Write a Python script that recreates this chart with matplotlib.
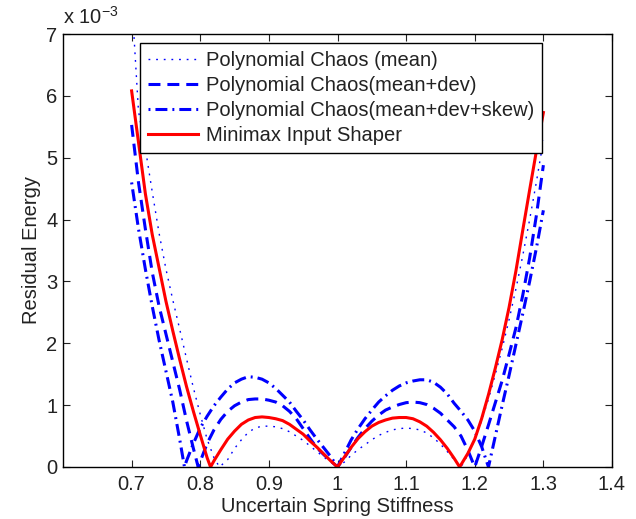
import matplotlib
matplotlib.use("Agg")
import matplotlib.pyplot as plt

plt.rcParams['font.family'] = ['Liberation Sans', 'DejaVu Sans']
plt.rcParams['mathtext.fontset'] = 'custom'
plt.rcParams['mathtext.rm'] = 'Liberation Sans'
plt.rcParams['lines.scale_dashes'] = False

# Residual energy (x 1e-3) against spring stiffness, one series per shaper
mean_x = [0.70, 0.71, 0.72, 0.73, 0.74, 0.75, 0.76, 0.77, 0.78, 0.79, 0.80, 0.81, 0.82, 0.828,
          0.84, 0.85, 0.86, 0.87, 0.88, 0.89, 0.90, 0.91, 0.92, 0.93, 0.94, 0.95, 0.96, 0.97, 0.98, 0.99, 1.00,
          1.01, 1.02, 1.03, 1.04, 1.05, 1.06, 1.07, 1.08, 1.09, 1.10, 1.11, 1.12, 1.13, 1.14, 1.15, 1.16, 1.17, 1.18,
          1.19, 1.20, 1.21, 1.22, 1.23, 1.24, 1.25, 1.26, 1.27, 1.28, 1.29, 1.30]
mean_y = [7.6, 5.75, 5.15, 4.45, 3.78, 3.2, 2.7, 2.23, 1.75, 1.28, 0.85, 0.45, 0.15, 0.0,
          0.12, 0.30, 0.44, 0.56, 0.63, 0.66, 0.66, 0.65, 0.62, 0.57, 0.50, 0.43, 0.34, 0.25, 0.16, 0.08, 0.0,
          0.08, 0.19, 0.28, 0.36, 0.44, 0.51, 0.56, 0.60, 0.62, 0.63, 0.62, 0.60, 0.55, 0.47, 0.37, 0.25, 0.12, 0.0,
          0.2, 0.45, 0.75, 1.1, 1.5, 1.92, 2.38, 2.88, 3.42, 4.0, 4.62, 5.28]

dev_x = [0.70, 0.71, 0.72, 0.73, 0.74, 0.75, 0.76, 0.77, 0.78, 0.79, 0.797,
         0.80, 0.81, 0.82, 0.83, 0.84, 0.85, 0.86, 0.87, 0.88, 0.89, 0.90, 0.91, 0.92, 0.93, 0.94, 0.95, 0.96, 0.97, 0.98, 0.99, 1.00,
         1.01, 1.02, 1.03, 1.04, 1.05, 1.06, 1.07, 1.08, 1.09, 1.10, 1.11, 1.12, 1.13, 1.14, 1.15, 1.16, 1.17, 1.18, 1.19, 1.20,
         1.21, 1.22, 1.23, 1.24, 1.25, 1.26, 1.27, 1.28, 1.29, 1.30]
dev_y = [5.53, 4.6, 3.85, 3.15, 2.6, 2.15, 1.7, 1.25, 0.75, 0.3, 0.0,
         0.09, 0.38, 0.6, 0.77, 0.9, 0.99, 1.05, 1.09, 1.1, 1.1, 1.08, 1.05, 0.99, 0.9, 0.78, 0.62, 0.46, 0.31, 0.2, 0.1, 0.0,
         0.15, 0.32, 0.48, 0.62, 0.74, 0.84, 0.92, 0.97, 1.01, 1.04, 1.05, 1.04, 1.01, 0.95, 0.87, 0.76, 0.65, 0.5, 0.27, 0.0,
         0.33, 0.68, 1.04, 1.40, 1.82, 2.25, 2.78, 3.38, 4.08, 4.88]

skew_x = [0.70, 0.71, 0.72, 0.73, 0.74, 0.75, 0.76, 0.77, 0.777,
          0.78, 0.79, 0.80, 0.81, 0.82, 0.83, 0.84, 0.85, 0.86, 0.87, 0.88, 0.89, 0.90, 0.91, 0.92, 0.93, 0.94, 0.95, 0.96, 0.97, 0.98, 0.99, 1.00,
          1.01, 1.02, 1.03, 1.04, 1.05, 1.06, 1.07, 1.08, 1.09, 1.10, 1.11, 1.12, 1.13, 1.14, 1.15, 1.16, 1.17, 1.18, 1.19, 1.20, 1.21, 1.22,
          1.23, 1.24, 1.25, 1.26, 1.27, 1.28, 1.29, 1.30]
skew_y = [4.6, 3.85, 3.2, 2.6, 2.05, 1.55, 1.05, 0.45, 0.0,
          0.1, 0.38, 0.63, 0.82, 0.99, 1.13, 1.26, 1.36, 1.42, 1.46, 1.45, 1.42, 1.36, 1.27, 1.16, 1.05, 0.9, 0.76, 0.6, 0.45, 0.31, 0.17, 0.0,
          0.22, 0.44, 0.62, 0.78, 0.92, 1.05, 1.15, 1.24, 1.31, 1.36, 1.39, 1.41, 1.41, 1.37, 1.29, 1.18, 1.03, 0.9, 0.76, 0.58, 0.33, 0.0,
          0.5, 1.0, 1.48, 1.98, 2.48, 3.0, 3.55, 4.15]

minimax_x = [0.70, 0.71, 0.72, 0.73, 0.74, 0.75, 0.76, 0.77, 0.78, 0.79, 0.80, 0.81, 0.815,
             0.82, 0.83, 0.84, 0.85, 0.86, 0.87, 0.88, 0.89, 0.90, 0.91, 0.92, 0.93, 0.94, 0.95, 0.96, 0.97, 0.98, 0.99, 1.00,
             1.01, 1.02, 1.03, 1.04, 1.05, 1.06, 1.07, 1.08, 1.09, 1.10, 1.11, 1.12, 1.13, 1.14, 1.15, 1.16, 1.17, 1.178,
             1.19, 1.20, 1.21, 1.22, 1.23, 1.24, 1.25, 1.26, 1.27, 1.28, 1.29, 1.30]
minimax_y = [6.08, 5.25, 4.42, 3.76, 3.22, 2.68, 2.2, 1.74, 1.30, 0.9, 0.52, 0.15, 0.0,
             0.10, 0.28, 0.45, 0.58, 0.69, 0.76, 0.80, 0.81, 0.80, 0.78, 0.75, 0.69, 0.61, 0.53, 0.42, 0.32, 0.21, 0.10, 0.0,
             0.16, 0.32, 0.46, 0.57, 0.66, 0.72, 0.76, 0.79, 0.80, 0.80, 0.78, 0.73, 0.66, 0.56, 0.44, 0.30, 0.14, 0.0,
             0.22, 0.45, 0.78, 1.17, 1.60, 2.06, 2.58, 3.17, 3.83, 4.48, 5.12, 5.73]

labels = ['Polynomial Chaos (mean)', 'Polynomial Chaos(mean+dev)',
          'Polynomial Chaos(mean+dev+skew)', 'Minimax Input Shaper']

fs = 14.5
ink = '#222222'

fig = plt.figure(figsize=(6.36, 5.19), dpi=100)
ax = fig.add_axes([63 / 636, 52 / 519, 549 / 636, 433 / 519])

ax.plot(mean_x, mean_y, color='#0000ff', lw=1.0, dashes=(1.3, 4.2), label=labels[0])
ax.plot(dev_x, dev_y, color='#0000ff', lw=2.2, dashes=(8.6, 5.0), label=labels[1])
ax.plot(skew_x, skew_y, color='#0000ff', lw=2.2, dashes=(1.4, 3.6, 8.6, 3.6), label=labels[2])
ax.plot(minimax_x, minimax_y, color='#ff0000', lw=2.2, label=labels[3])

ax.set_xlim(0.6, 1.4)
ax.set_ylim(0, 7)
ax.set_xticks([0.7, 0.8, 0.9, 1.0, 1.1, 1.2, 1.3, 1.4])
ax.set_xticklabels(['0.7', '0.8', '0.9', '1', '1.1', '1.2', '1.3', '1.4'])
ax.set_yticks(range(8))
ax.tick_params(direction='in', length=5, width=0.8, top=True, right=True,
               labelsize=fs, colors=ink)
ax.tick_params(axis='x', pad=6)
ax.tick_params(axis='y', pad=4)
for s in ax.spines.values():
    s.set_linewidth(1.0)

ax.set_xlabel('Uncertain Spring Stiffness', fontsize=fs, color=ink, labelpad=2)
ax.set_ylabel('Residual Energy', fontsize=fs, color=ink, labelpad=4)
ax.text(0.0, 1.015, r'x 10$^{-3}$', transform=ax.transAxes, fontsize=fs,
        color=ink, ha='left', va='bottom')

leg = ax.legend(loc='upper left', bbox_to_anchor=(0.1403, 0.980), borderaxespad=0,
                fontsize=fs, frameon=True, fancybox=False, framealpha=1,
                edgecolor='black', handlelength=2.5, handletextpad=0.36,
                borderpad=0.4, labelspacing=0.3)
leg.get_frame().set_linewidth(1.0)
for t in leg.get_texts():
    t.set_color(ink)

fig.savefig('out.png', dpi=100)
